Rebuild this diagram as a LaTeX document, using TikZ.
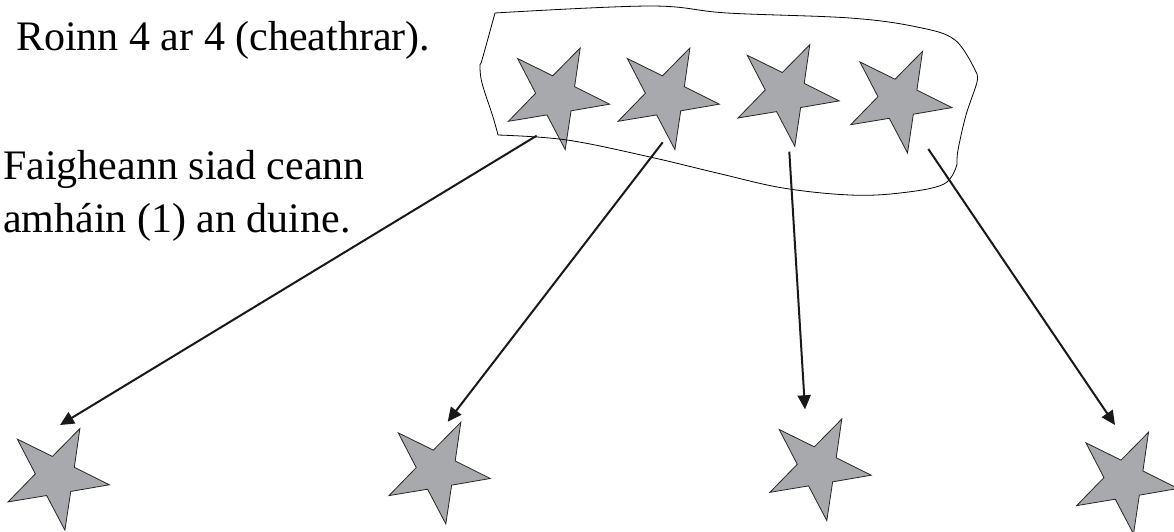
\documentclass[tikz,border=0pt]{standalone}
\usepackage{fontspec}
\setmainfont{Liberation Serif}
\usetikzlibrary{shapes.geometric,arrows.meta}
\definecolor{stargray}{RGB}{167,169,172}
\tikzset{
  starshape/.style={star, star points=5, star point ratio=2.6, minimum size=108pt,
    inner sep=0pt, outer sep=0pt, fill=stargray, draw=black!85, line width=0.8pt,
    shape border rotate=-26.4},
  label text/.style={inner sep=0pt, font=\fontsize{42}{53}\selectfont, anchor=base west},
  blob/.style={draw=black, line width=0.8pt},
  give/.style={draw=black!90, line width=2pt, -{Triangle[length=14pt,width=13pt]}}
}
\begin{document}
\begin{tikzpicture}[x=1pt,y=-1pt]
\clip (0,0) rectangle (1174,531);
\fill[white] (0,0) rectangle (1174,531);
% top group of stars
\node[starshape] (t1) at (556.2,96.3) {};
\node[starshape] (t2) at (665.9,96.3) {};
\node[starshape] (t3) at (785.8,93.0) {};
\node[starshape] (t4) at (898.5,99.7) {};
% outline round the group
\draw[blob] plot[smooth, tension=0.6] coordinates {(495,13) (650,6) (727,13) (850,18) (917,27) (955,40) (976,72)}
  -- plot[smooth, tension=0.6] coordinates {(976,72) (977,82) (966,115) (958,150) (957,164)}
  -- plot[smooth, tension=0.6] coordinates {(957,164) (944,184) (900,193) (850,195) (783,188) (717,173) (650,157) (567,140) (498,135)}
  -- plot[smooth, tension=0.6] coordinates {(498,135) (493,117) (482,83) (480,65) (482,60) (495,13)} -- cycle;
% bottom stars
\node[starshape] (b1) at (55.9,476.9) {};
\node[starshape] (b2) at (436.8,470.6) {};
\node[starshape] (b3) at (817.8,467.3) {};
\node[starshape] (b4) at (1124.5,480.6) {};
% texts
\node[label text] (txt1) at (16,50) {Roinn 4 ar 4 (cheathrar).};
\node[label text] (txt2) at (3,179.3) {Faigheann siad ceann};
\node[label text] (txt3) at (3,232.5) {amháin (1) an duine.};
% arrow ends
\coordinate (s1) at (536.7,135.7);
\coordinate (e1) at (60,425);
\coordinate (s2) at (662.7,142.3);
\coordinate (e2) at (447.7,421.7);
\coordinate (s3) at (789.3,151.7);
\coordinate (e3) at (805,409.3);
\coordinate (s4) at (928.3,149);
\coordinate (e4) at (1115,425);
\draw[give] (s1) -- (e1);
\draw[give] (s2) -- (e2);
\draw[give] (s3) -- (e3);
\draw[give] (s4) -- (e4);
\end{tikzpicture}
\end{document}
